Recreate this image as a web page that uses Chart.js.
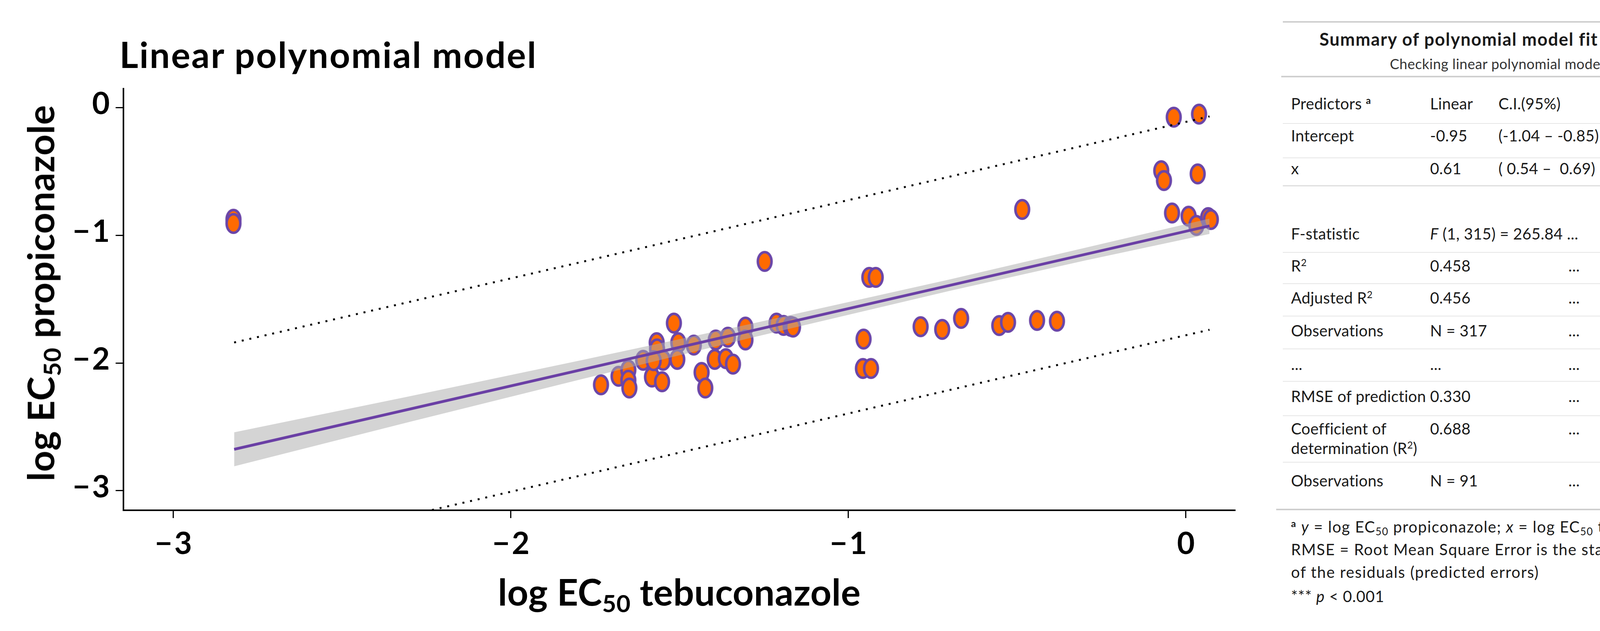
<!DOCTYPE html>
<html>
<head>
<meta charset="utf-8">
<script src="https://cdn.jsdelivr.net/npm/chart.js@4.4.1/dist/chart.umd.min.js"></script>
<style>
  html, body { margin: 0; padding: 0; background: #fff; }
  #page { position: relative; width: 4443px; height: 1615px; overflow: hidden; background: #fff; font-family: Lato, "Open Sans", sans-serif; color: #000; }
  #chart { position: absolute; left: 0; top: 0; }
  .t { position: absolute; white-space: nowrap; line-height: 1; }
  .sub { font-size: 0.66em; position: relative; top: 0.28em; }
  .sup { font-size: 0.62em; position: relative; top: -0.55em; }
  .rule { position: absolute; }
</style>
</head>
<body>
<div id="page">
  <canvas id="chart" width="3250" height="1615"></canvas>
</div>
<script>
// measured data (log EC50 values)
var tebuconazole = [-2.822, -2.822, -1.733, -1.681, -1.652, -1.652, -1.649, -1.608, -1.568, -1.567,
  -1.582, -1.552, -1.549, -1.577, -1.517, -1.504, -1.507, -1.458, -1.435, -1.424,
  -1.393, -1.396, -1.357, -1.363, -1.342, -1.305, -1.305, -1.213, -1.192, -1.171,
  -1.164, -1.248, -0.938, -0.919, -0.955, -0.957, -0.933, -0.786, -0.722, -0.666,
  -0.553, -0.527, -0.441, -0.382, -0.485, -0.036, 0.039, -0.073, -0.065, 0.035,
  -0.041, 0.008, 0.031, 0.066, 0.074];
var propiconazole = [-0.875, -0.908, -2.171, -2.104, -2.055, -2.135, -2.196, -1.979, -1.841, -1.890,
  -2.110, -2.147, -1.979, -1.982, -1.688, -1.841, -1.972, -1.860, -2.074, -2.196,
  -1.820, -1.972, -1.798, -1.966, -2.009, -1.719, -1.820, -1.688, -1.706, -1.713,
  -1.719, -1.205, -1.330, -1.330, -1.813, -2.043, -2.043, -1.716, -1.737, -1.651,
  -1.707, -1.682, -1.667, -1.673, -0.798, -0.076, -0.052, -0.495, -0.572, -0.520,
  -0.826, -0.851, -0.923, -0.862, -0.877];

var fitX = [-2.82, 0.07];
var fitY = [-2.676, -0.927];

var bandX = [-2.82, -2.3, -1.8, -1.3, -0.7, -0.3, 0.07];
var bandUpper = [-2.543, -2.261, -1.983, -1.700, -1.346, -1.099, -0.870];
var bandLower = [-2.809, -2.461, -2.133, -1.810, -1.436, -1.199, -0.990];

var predX = [-2.82, 0.07];
var predUpper = [-1.84, -0.07];
var predLower = [-3.51, -1.74];

var xTicks = [-3, -2, -1, 0];
var yTicks = [-3, -2, -1, 0];

function pts(xs, ys) {
  return xs.map(function(x, i) { return { x: x, y: ys[i] }; });
}

function fmt(v) {
  return v === 0 ? '0' : '\u2212\u200A' + Math.abs(v);
}

function dot() {
  var c = document.createElement('canvas');
  c.width = 46; c.height = 58;
  var g = c.getContext('2d');
  g.beginPath();
  g.ellipse(23, 29, 17.5, 23.8, 0, 0, 2 * Math.PI);
  g.fillStyle = '#FF6A00';
  g.fill();
  g.lineWidth = 6.5;
  g.strokeStyle = '#6B46A8';
  g.stroke();
  return c;
}

function put(html, x, base, size, extra) {
  extra = extra || {};
  var d = document.createElement('div');
  d.className = 't';
  d.innerHTML = html;
  d.style.fontSize = size + 'px';
  d.style.top = (base - 0.887 * size) + 'px';
  d.style.left = x + 'px';
  if (extra.center) d.style.transform = 'translateX(-50%)';
  if (extra.bold) d.style.fontWeight = 'bold';
  if (extra.color) d.style.color = extra.color;
  if (extra.ls) d.style.letterSpacing = extra.ls + 'px';
  document.getElementById('page').appendChild(d);
  if (extra.w) fitWidth(d, extra.w);
  return d;
}

// stretch text to the width measured on the picture
function fitWidth(d, w) {
  var n = d.textContent.length;
  var nat = d.offsetWidth;
  if (n > 1) d.style.letterSpacing = ((w - nat) / (n - 1)) + 'px';
}

function rule(y, x1, x2, h, col) {
  var d = document.createElement('div');
  d.className = 'rule';
  d.style.left = x1 + 'px';
  d.style.width = (x2 - x1) + 'px';
  d.style.top = (y - h / 2) + 'px';
  d.style.height = h + 'px';
  d.style.background = col;
  document.getElementById('page').appendChild(d);
}

function drawText() {
  // plot title and axis titles
  put('Linear polynomial model', 306, 175, 92, { bold: true, w: 1066 });
  put('log EC<span class="sub">50</span> tebuconazole', 1739, 1550, 94, { bold: true, center: true, w: 928 });
  var yl = put('log EC<span class="sub">50</span> propiconazole', 0, 0, 94, { bold: true, w: 963 });
  yl.style.left = '103px';
  yl.style.top = '750px';
  yl.style.transform = 'translate(-50%, -50%) rotate(-90deg)';

  // summary table
  var ink = '#1a1a1a';
  rule(56, 3284, 4350, 4, '#cfcfcf');
  put('Summary of polynomial model fit analyses', 3832, 118, 45, { bold: true, center: true, color: ink, w: 906 });
  put('Checking linear polynomial model', 3832, 177, 36, { center: true, color: '#333', w: 548 });
  rule(196, 3280, 4350, 4, '#cfcfcf');

  var rows = [
    [280, [[3305, 'Predictors <span class="sup" style="font-weight:bold">a</span>'], [3661, 'Linear'], [3836, 'C.I.(95%)'], [4159, '<i>p</i>']]],
    [362, [[3305, 'Intercept'], [3661, '-0.95'], [3836, '(-1.04 \u2013 -0.85)'], [4148, '***']]],
    [446, [[3305, 'x'], [3661, '0.61'], [3836, '( 0.54 \u2013 &nbsp;0.69)'], [4148, '***']]],
    [613, [[3305, 'F-statistic'], [3661, '<i>F</i> (1, 315) = 265.84 ...'], [4190, '...']]],
    [695, [[3305, 'R<span class="sup">2</span>'], [3661, '0.458'], [4015, '...'], [4201, '...']]],
    [777, [[3305, 'Adjusted R<span class="sup">2</span>'], [3661, '0.456'], [4015, '...'], [4210, '...']]],
    [861, [[3305, 'Observations'], [3661, 'N = 317'], [4015, '...'], [4210, '...']]],
    [947, [[3305, '...'], [3661, '...'], [4015, '...'], [4210, '...']]],
    [1029, [[3305, 'RMSE of prediction'], [3661, '0.330'], [4015, '...'], [4220, '...']]],
    [1112, [[3305, 'Coefficient of'], [3661, '0.688'], [4015, '...'], [4224, '...']]],
    [1162, [[3305, 'determination (R<span class="sup">2</span>)']]],
    [1245, [[3305, 'Observations'], [3661, 'N = 91'], [4015, '...'], [4224, '...']]]
  ];
  rows.forEach(function(r) {
    r[1].forEach(function(c) { put(c[1], c[0], r[0], 40, { color: ink, ls: 0.3 }); });
  });
  [316, 404, 646, 726, 809, 893, 976, 1064, 1183].forEach(function(y) {
    rule(y, 3284, 4346, 2, '#e6e6e6');
  });
  rule(475, 3284, 4346, 3, '#dedede');
  rule(1304, 3267, 4346, 4, '#cfcfcf');

  put('<span class="sup" style="font-weight:bold">a</span> <i>y</i> = log EC<span class="sub">50</span> propiconazole; <i>x</i> = log EC<span class="sub">50</span> tebuconazole', 3305, 1363, 40, { color: ink, w: 1037 });
  put('RMSE = Root Mean Square Error is the standard deviation', 3305, 1421, 40, { color: ink, w: 1094 });
  put('of the residuals (predicted errors)', 3305, 1479, 40, { color: ink, w: 634 });
  put('*** <i>p</i> &lt; 0.001', 3305, 1541, 40, { color: ink, w: 238 });
}

function drawChart() {
  var tickFont = { family: 'Lato', weight: 'bold', size: 78 };
  new Chart(document.getElementById('chart'), {
    type: 'line',
    data: {
      datasets: [
        {
          type: 'scatter',
          data: pts(tebuconazole, propiconazole),
          pointStyle: dot(),
          pointRadius: 23,
          order: 5
        },
        {
          data: pts(bandX, bandUpper),
          borderWidth: 0,
          pointRadius: 0,
          fill: '+1',
          backgroundColor: 'rgba(172,172,172,0.52)',
          order: 4
        },
        {
          data: pts(bandX, bandLower),
          borderWidth: 0,
          pointRadius: 0,
          fill: false,
          order: 4
        },
        {
          data: pts(fitX, fitY),
          borderColor: '#6A3FA5',
          borderWidth: 7,
          pointRadius: 0,
          fill: false,
          order: 2
        },
        {
          data: pts(predX, predUpper),
          borderColor: '#000',
          borderWidth: 5,
          borderDash: [5, 15],
          pointRadius: 0,
          fill: false,
          order: 1
        },
        {
          data: pts(predX, predLower),
          borderColor: '#000',
          borderWidth: 5,
          borderDash: [5, 15],
          pointRadius: 0,
          fill: false,
          order: 1
        }
      ]
    },
    options: {
      responsive: false,
      animation: false,
      devicePixelRatio: 1,
      layout: { padding: { top: 227, right: 88, left: 0, bottom: 0 } },
      plugins: { legend: { display: false }, tooltip: { enabled: false }, title: { display: false } },
      scales: {
        x: {
          type: 'linear',
          min: -3.148,
          max: 0.146,
          afterBuildTicks: function(s) { s.ticks = xTicks.map(function(v) { return { value: v }; }); },
          afterFit: function(s) { s.height = 309; },
          grid: { drawOnChartArea: false, drawTicks: true, tickLength: 20, tickWidth: 3, tickColor: '#000' },
          border: { display: true, color: '#000', width: 4 },
          ticks: { font: tickFont, color: '#000', padding: 20, maxRotation: 0, autoSkip: false, callback: fmt }
        },
        y: {
          type: 'linear',
          min: -3.153,
          max: 0.147,
          afterBuildTicks: function(s) { s.ticks = yTicks.map(function(v) { return { value: v }; }); },
          afterFit: function(s) { s.width = 316; },
          grid: { drawOnChartArea: false, drawTicks: true, tickLength: 20, tickWidth: 3, tickColor: '#000' },
          border: { display: true, color: '#000', width: 4 },
          ticks: { font: tickFont, color: '#000', padding: 15, labelOffset: -8, autoSkip: false, callback: fmt }
        }
      }
    }
  });
}

Promise.all([
  document.fonts.load('bold 76px Lato'),
  document.fonts.load('41px Lato'),
  document.fonts.load('italic 41px Lato')
]).catch(function() {}).then(function() {
  drawText();
  drawChart();
});
</script>
</body>
</html>
